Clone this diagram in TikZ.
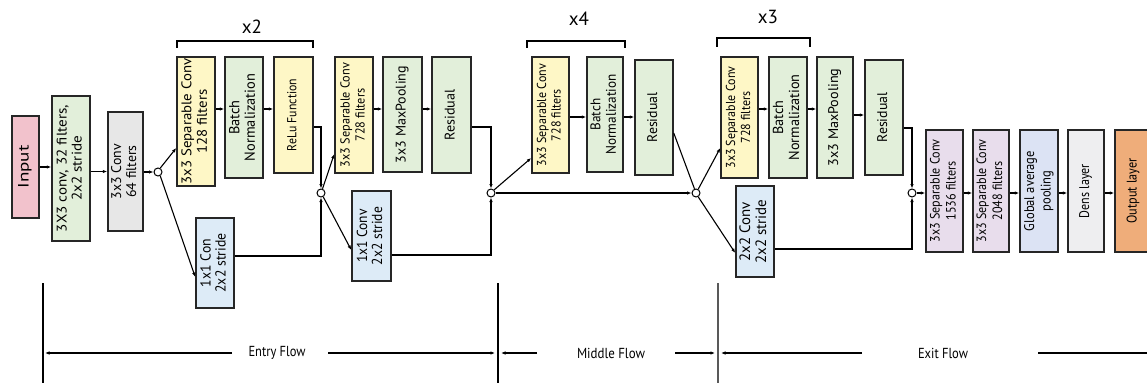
\documentclass[tikz,border=0pt]{standalone}
\usepackage{fontspec}
\setmainfont{PT Sans}
\usetikzlibrary{arrows.meta}
% #1 length of longest line, #2 font size, #3 line spacing, #4 text
\newcommand{\vtxt}[4]{\rotatebox{90}{\resizebox{#1pt}{\height}{\fontsize{#2}{#3}\selectfont\begin{tabular}{@{}c@{}}#4\end{tabular}}}}
\newcommand{\hflow}[3]{\resizebox{#1pt}{\height}{\fontsize{#2}{#2}\selectfont #3}}
\definecolor{cpink}{HTML}{F2C2CC}
\definecolor{cgreen}{HTML}{E2EFDA}
\definecolor{cgrey}{HTML}{E7E7E7}
\definecolor{cyellow}{HTML}{FEF7C6}
\definecolor{cblue}{HTML}{DDEBF7}
\definecolor{cpurple}{HTML}{E8DDEC}
\definecolor{clav}{HTML}{DCE3F4}
\definecolor{cdens}{HTML}{EEEEF0}
\definecolor{corange}{HTML}{EFAD7A}
\begin{document}
\begin{tikzpicture}[x=1pt,y=-1pt,
  box/.style={draw=black!85, line width=1.5pt, inner sep=0pt},
  arr/.style={line width=1.1pt, -{Latex[length=4.5pt,width=3.5pt]}},
  ln/.style={line width=1.1pt},
  jn/.style={circle, draw=black, line width=1pt, fill=white, minimum size=8pt, inner sep=0pt},
  rep/.style={font=\fontsize{19}{22}\selectfont}
]
\useasboundingbox (0,0) rectangle (1147,385);
% entry flow
\node[box, fill=cpink, minimum width=27pt, minimum height=102pt] (input) at (25.5,167) {\vtxt{43}{15}{16}{Input}};
\node[box, fill=cgreen, minimum width=38pt, minimum height=145pt] (conv1) at (71,168.5) {\vtxt{127}{14}{15}{3X3 conv, 32 filters,\\2x2 stride}};
\node[box, fill=cgrey, minimum width=35pt, minimum height=119pt] (conv2) at (125.5,171.5) {\vtxt{55}{14}{15}{3x3 Conv\\64 filters}};
\node[jn] (j1) at (158,172) {};
\node[box, fill=cyellow, minimum width=38pt, minimum height=129pt] (sep1) at (196,121.5) {\vtxt{126}{14}{15.5}{3x3 Separable Conv\\128 filters}};
\node[box, fill=cgreen, minimum width=38pt, minimum height=121pt] (bn1) at (244,117.5) {\vtxt{87}{14.5}{15.5}{Batch\\Normalization}};
\node[box, fill=cyellow, minimum width=39pt, minimum height=116pt] (relu) at (293.5,115) {\vtxt{72}{13}{14}{ReLu Function}};
\node[box, fill=cblue, minimum width=38pt, minimum height=90pt] (con1) at (215,263) {\vtxt{59}{14.5}{15}{1x1 Con\\2x2 stride}};
\node[jn] (j2) at (321,193) {};
\node[box, fill=cyellow, minimum width=38pt, minimum height=116pt] (sep2) at (354,115) {\vtxt{104}{13}{15}{3x3 Separable Conv\\728 filters}};
\node[box, fill=cgreen, minimum width=39pt, minimum height=115pt] (mp1) at (402.5,114.5) {\vtxt{97}{14}{15}{3x3 MaxPooling}};
\node[box, fill=cgreen, minimum width=39pt, minimum height=116pt] (res1) at (451.5,115) {\vtxt{51}{14}{15}{Residual}};
\node[box, fill=cblue, minimum width=39pt, minimum height=90pt] (con2) at (371.5,236) {\vtxt{58}{14.5}{15}{1x1 Conv\\2x2 stride}};
\node[jn] (j3) at (491,193) {};
% middle flow
\node[box, fill=cyellow, minimum width=37pt, minimum height=116pt] (sep3) at (550.5,115) {\vtxt{102}{13}{14.5}{3x3 Separable Conv\\728 filters}};
\node[box, fill=cgreen, minimum width=36pt, minimum height=115pt] (bn2) at (605,114.5) {\vtxt{80}{14}{15.5}{Batch\\Normalization}};
\node[box, fill=cgreen, minimum width=38pt, minimum height=115pt] (res2) at (654,117.5) {\vtxt{50}{14}{15}{Residual}};
\node[jn] (j4) at (696,193) {};
% exit flow
\node[box, fill=cyellow, minimum width=37pt, minimum height=121pt] (sep4) at (739.5,117.5) {\vtxt{102}{13}{15}{3x3 Separable Conv\\728 filters}};
\node[box, fill=cgreen, minimum width=38pt, minimum height=121pt] (bn3) at (788,117.5) {\vtxt{86}{14.5}{16}{Batch\\Normalization}};
\node[box, fill=cgreen, minimum width=36pt, minimum height=121pt] (mp2) at (835,117.5) {\vtxt{98}{14}{15}{3x3 MaxPooling}};
\node[box, fill=cgreen, minimum width=38pt, minimum height=115pt] (res3) at (884,117.5) {\vtxt{50}{14}{15}{Residual}};
\node[box, fill=cblue, minimum width=38pt, minimum height=91pt] (con3) at (755,231.5) {\vtxt{64}{15}{16}{2x2 Conv\\2x2 stride}};
\node[jn] (j5) at (912,193) {};
\node[box, fill=cpurple, minimum width=37pt, minimum height=122pt] (sep5) at (944.5,191) {\vtxt{103}{13.5}{16}{3x3 Separable Conv\\1536 filters}};
\node[box, fill=cpurple, minimum width=36pt, minimum height=122pt] (sep6) at (991,191) {\vtxt{103}{13.5}{16}{3x3 Separable Conv\\2048 filters}};
\node[box, fill=clav, minimum width=38pt, minimum height=122pt] (gap) at (1039,191) {\vtxt{80}{14}{16.5}{Global average\\pooling}};
\node[box, fill=cdens, minimum width=36pt, minimum height=122pt] (dens) at (1086,191) {\vtxt{54}{14}{15}{Dens layer}};
\node[box, fill=corange, minimum width=37pt, minimum height=122pt] (out) at (1133.5,191) {\vtxt{65}{14}{15}{Output layer}};
% connectors entry
\draw[arr] (input.east) -- (input.east -| conv1.west);
\draw[arr] (conv1.east |- conv2) -- (conv2.west);
\draw[arr] (conv2.east |- j1) -- (j1.west);
\draw[arr] (j1.60) -- ([yshift=-26.5pt]sep1.west);
\draw[arr] (j1.-60) -- ([yshift=-14pt]con1.west);
\draw[arr] ([yshift=12.5pt]sep1.east) -- ([yshift=8.5pt]bn1.west);
\draw[arr] ([yshift=8.5pt]bn1.east) -- ([yshift=6pt]relu.west);
\draw[arr] ([yshift=-12pt]relu.east) -| (j2.north);
\draw[arr] ([yshift=7pt]con1.east) -| (j2.south);
\draw[arr] (j2.70) -- ([yshift=-39pt]sep2.west);
\draw[arr] (j2.-60) -- ([yshift=-14pt]con2.west);
\draw[arr] ([yshift=6pt]sep2.east) -- ([yshift=5.5pt]mp1.west);
\draw[arr] ([yshift=5.5pt]mp1.east) -- ([yshift=6pt]res1.west);
\draw[arr] ([yshift=-12pt]res1.east) -| (j3.north);
\draw[arr] ([yshift=-19pt]con2.east) -| (j3.south);
% middle
\draw[arr] (j3.45) -- ([yshift=-43pt]sep3.west);
\draw[arr] (j3.east) -- (j4.west);
\draw[arr] ([yshift=-2pt]sep3.east) -- ([yshift=-2.5pt]bn2.west);
\draw[arr] ([yshift=-2.5pt]bn2.east) -- ([yshift=0.5pt]res2.west);
\draw[ln] ([yshift=-15.5pt]res2.east) -- (j4.110);
% exit
\draw[arr] (j4.60) -- ([yshift=-30.5pt]sep4.west);
\draw[arr] (j4.-60) -- ([yshift=-21.5pt]con3.west);
\draw[arr] ([yshift=8.5pt]sep4.east) -- ([yshift=8.5pt]bn3.west);
\draw[arr] ([yshift=8.5pt]bn3.east) -- ([yshift=8.5pt]mp2.west);
\draw[arr] ([yshift=2.5pt]mp2.east) -- ([yshift=2.5pt]res3.west);
\draw[arr] ([yshift=-10.5pt]res3.east) -| (j5.north);
\draw[arr] ([yshift=-17.5pt]con3.east) -| (j5.south);
\draw[arr] (j5.east) -- (j5 -| sep5.west);
\draw[arr] ([yshift=-2pt]sep5.east) -- ([yshift=-2pt]sep6.west);
\draw[arr] ([yshift=-2pt]sep6.east) -- ([yshift=-2pt]gap.west);
\draw[arr] ([yshift=-2pt]gap.east) -- ([yshift=-2pt]dens.west);
\draw[arr] ([yshift=-2pt]dens.east) -- ([yshift=-2pt]out.west);
% brackets
\draw[ln] (177,48) -- (177,41) -- (313,41) -- (313,48);
\node[rep] (rx2) at (252,27) {x2};
\draw[ln] (527,48) -- (527,41) -- (625,41) -- (625,48);
\node[rep] (rx4) at (579,19) {x4};
\draw[ln] (717,47) -- (717,38) -- (810,38) -- (810,47);
\node[rep] (rx3) at (768,17) {x3};
% bottom flows
\draw[line width=1.3pt] (43,283) -- (43,383);
\draw[line width=1.3pt] (498,283) -- (498,383);
\draw[line width=1.3pt, black!65] (718,283) -- (718,383);
\node (entry) at (277,353) {\hflow{57}{14.5}{Entry Flow}};
\node (middle) at (611,353) {\hflow{68}{14.5}{Middle Flow}};
\node (exit) at (943,353) {\hflow{50}{14.5}{Exit Flow}};
\draw[arr] (232,353) -- (45,353);
\draw[arr] (328,353) -- (495,353);
\draw[arr] (537,353) -- (501,353);
\draw[arr] (675,353) -- (715,353);
\draw[arr] (862,353) -- (721,353);
\draw[arr] (1038,353) -- (1152,353);
\end{tikzpicture}
\end{document}
